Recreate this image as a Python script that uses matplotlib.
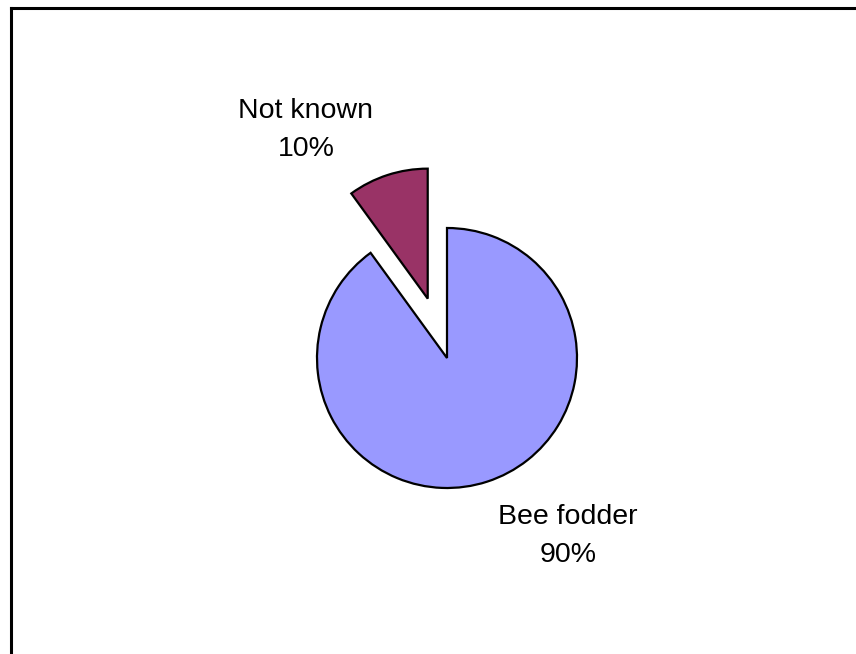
import matplotlib
matplotlib.use("Agg")
import matplotlib.pyplot as plt
from matplotlib.lines import Line2D

plt.rcParams['font.family'] = ['Liberation Sans', 'DejaVu Sans']

categories = ["Bee fodder", "Not known"]
values = [90, 10]
colors = ["#9999FF", "#993366"]
explode_frac = [0.0, 0.48]

W, H = 856, 654
fig = plt.figure(figsize=(W / 100, H / 100), dpi=100)
ax = fig.add_axes([0, 0, 1, 1])
ax.set_axis_off()

R = 130
cx, cy = 447, 358  # pie centre in pixels (from top-left)

ax.pie(values, colors=colors, explode=[e * R for e in explode_frac], radius=R,
       startangle=90, counterclock=False, center=(0, 0),
       wedgeprops=dict(edgecolor='black', linewidth=1.6), frame=False)
ax.set_xlim(-cx, W - cx)
ax.set_ylim(-(H - cy), cy)
ax.set_aspect('equal')

labels = [f"{c}\n{v}%" for c, v in zip(categories, values)]
label_pos = [(568 - cx, cy - 536), (306 - cx, cy - 130)]
for lab, (x, y) in zip(labels, label_pos):
    ax.text(x, y, lab, ha='center', va='center', fontsize=20.5,
            linespacing=1.55, color='black')

# partial frame: left and top edges
fig.add_artist(Line2D([11 / W, 11 / W], [0, 1 - 7.5 / H], transform=fig.transFigure,
                      color='black', linewidth=2.2, solid_capstyle='projecting'))
fig.add_artist(Line2D([11 / W, 1], [1 - 7.5 / H, 1 - 7.5 / H], transform=fig.transFigure,
                      color='black', linewidth=2.2, solid_capstyle='projecting'))

fig.savefig("out.png", dpi=100)
